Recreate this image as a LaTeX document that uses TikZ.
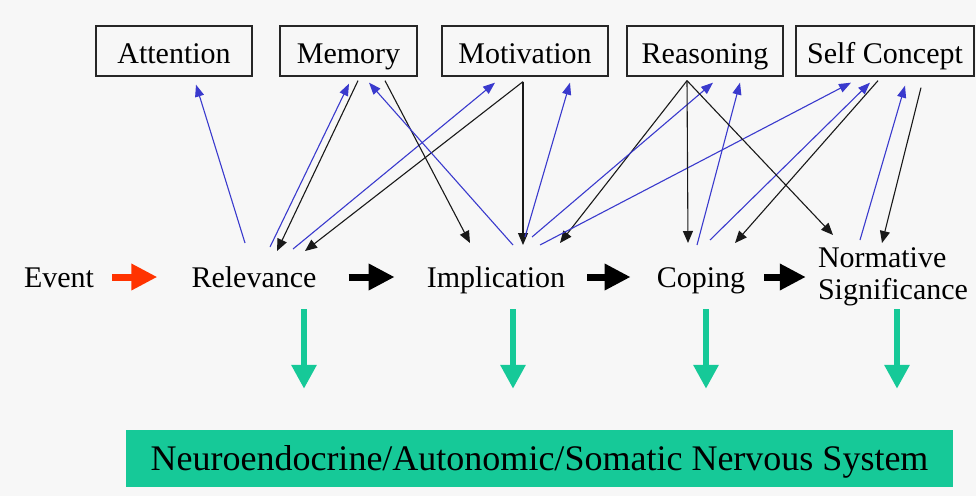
\documentclass[tikz,border=0pt]{standalone}
\usepackage{fontspec}
\setmainfont{Liberation Serif}
\usetikzlibrary{arrows.meta}
\definecolor{bg}{RGB}{247,247,247}
\definecolor{lnblue}{RGB}{58,58,205}
\definecolor{nsgreen}{RGB}{22,201,152}
\definecolor{evred}{RGB}{255,51,0}
\tikzset{
  box/.style={draw=black!85, line width=1.3pt, minimum height=50pt, inner sep=0pt,
    text height=24pt, text depth=0pt, font=\fontsize{30}{31}\selectfont},
  stage/.style={inner sep=0pt, text height=20pt, text depth=0pt, font=\fontsize{30}{31}\selectfont},
  blu/.style={draw=lnblue, line width=1.1pt, -{Triangle[length=12pt,width=9pt]}},
  blk/.style={draw=black!90, line width=1.1pt, -{Triangle[length=12pt,width=10pt]}},
  fat/.style={line width=7pt, -{Triangle[length=26pt,width=25pt]}},
  grn/.style={draw=nsgreen, line width=6.5pt, -{Triangle[length=24pt,width=24pt]}},
}
\begin{document}
\begin{tikzpicture}[x=1pt,y=-1pt]
\fill[bg] (0,0) rectangle (976,496);
\useasboundingbox (0,0) rectangle (976,496);
% appraisal inputs
\node[box, minimum width=156pt] (att) at (174,51) {Attention};
\node[box, minimum width=137pt] (mem) at (348.5,51) {Memory};
\node[box, minimum width=166pt] (mot) at (525,51) {Motivation};
\node[box, minimum width=156pt] (rea) at (705,51) {Reasoning};
\node[box, minimum width=178pt] (sc) at (885,51) {Self Concept};
% stages
\node[stage] (ev) at (59,277) {Event};
\node[stage] (rel) at (254,277) {Relevance};
\node[stage] (imp) at (496,277) {Implication};
\node[stage] (cop) at (701,277) {Coping};
\node[inner sep=0pt, align=left, font=\fontsize{30}{32}\selectfont] (norm) at (893,277) {Normative\\Significance};
\node[fill=nsgreen, minimum width=827pt, minimum height=57pt, inner sep=0pt,
  text height=24pt, text depth=0pt, font=\fontsize{36}{38}\selectfont] (nes) at (539.5,458.5)
  {Neuroendocrine/Autonomic/Somatic Nervous System};
% relevance
\draw[blu] ([shift={(-9,-44)}]rel.base) -- ([shift={(22,8)}]att.south);
\draw[blu] ([shift={(16,-40)}]rel.base) -- ([shift={(0.5,7)}]mem.south);
\draw[blk] ([shift={(9.5,4)}]mem.south) -- ([shift={(23,-36)}]rel.base);
\draw[blu] ([shift={(39,-38)}]rel.base) -- ([shift={(-30,6)}]mot.south);
\draw[blk] ([shift={(-2,5)}]mot.south) -- ([shift={(51,-36)}]rel.base);
% implication
\draw[blk] ([shift={(36.5,4)}]mem.south) -- ([shift={(-26,-44)}]imp.base);
\draw[blu] ([shift={(17,-42)}]imp.base) -- ([shift={(20.5,6)}]mem.south);
\draw[blk] ([shift={(-2,5)}]mot.south) -- ([shift={(27,-42)}]imp.base);
\draw[blu] ([shift={(29,-50)}]imp.base) -- ([shift={(45,6)}]mot.south);
\draw[blk] ([shift={(-18,4)}]rea.south) -- ([shift={(64,-44)}]imp.base);
\draw[blu] ([shift={(36,-50)}]imp.base) -- ([shift={(8,6)}]rea.south);
\draw[blu] ([shift={(44,-42)}]imp.base) -- ([shift={(-34,6)}]sc.south);
% coping
\draw[blk] ([shift={(-18,4)}]rea.south) -- ([shift={(-13,-44)}]cop.base);
\draw[blu] ([shift={(-4,-42)}]cop.base) -- ([shift={(35,6)}]rea.south);
\draw[blu] ([shift={(9,-47)}]cop.base) -- ([shift={(-15,6)}]sc.south);
\draw[blk] ([shift={(-7,4)}]sc.south) -- ([shift={(34,-44)}]cop.base);
% normative significance
\draw[blk] ([shift={(-18,4)}]rea.south) -- ([shift={(-60,-42)}]norm.center);
\draw[blu] ([shift={(-33,-37)}]norm.center) -- ([shift={(20,9)}]sc.south);
\draw[blk] ([shift={(36,11)}]sc.south) -- ([shift={(-11,-34)}]norm.center);
% sequence
\draw[fat, evred] ([shift={(18,0)}]ev.east) -- ([shift={(-34,0)}]rel.west);
\draw[fat] ([shift={(32,0)}]rel.east) -- ([shift={(-32,0)}]imp.west);
\draw[fat] ([shift={(22,0)}]imp.east) -- ([shift={(-26,0)}]cop.west);
\draw[fat] ([shift={(19,0)}]cop.east) -- ([shift={(-12,0)}]norm.west);
% output
\draw[grn] ([shift={(50,22)}]rel.base) -- ([shift={(50,-41)}]rel.base |- nes.north);
\draw[grn] ([shift={(17,22)}]imp.base) -- ([shift={(17,-41)}]imp.base |- nes.north);
\draw[grn] ([shift={(5,22)}]cop.base) -- ([shift={(5,-41)}]cop.base |- nes.north);
\draw[grn] ([shift={(4,32)}]norm.center) -- ([shift={(4,-41)}]norm.center |- nes.north);
\end{tikzpicture}
\end{document}
